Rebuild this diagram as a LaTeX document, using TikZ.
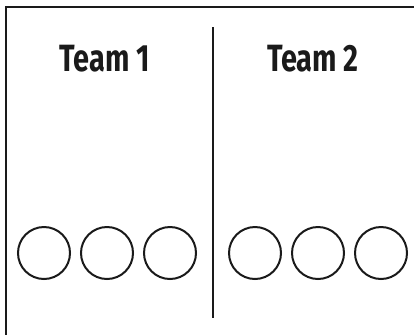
\documentclass[tikz,border=0pt]{standalone}
\usepackage{fontspec}
\setmainfont{Fira Sans}
\usetikzlibrary{positioning}
\definecolor{ink}{HTML}{1A1A1A}
\tikzset{
  frame/.style={draw=ink,line width=2.2pt},
  divider/.style={draw=ink,line width=2.2pt},
  token/.style={circle,draw=ink,line width=2pt,minimum size=52pt,inner sep=0pt},
  teamlabel/.style={font=\fontsize{38}{42}\selectfont\bfseries,text=ink,inner sep=0pt}
}
\newcommand{\teamname}[1]{\scalebox{0.76}[1]{#1}}
\begin{document}
\begin{tikzpicture}[x=1pt,y=-1pt,node distance=9pt]
    \useasboundingbox (0,0) rectangle (414,335);
    \draw[frame] (414,7) -- (6,7) -- (6,335);

    \coordinate (divtop) at (213,27);
    \coordinate (divbot) at (213,318);
    \draw[divider] (divtop) -- (divbot);

    \node[teamlabel] (team1) at (105,59) {\teamname{Team 1}};
    \node[teamlabel] (team2) at (313,59) {\teamname{Team 2}};

    \node[token] (a1) at (44,253) {};
    \node[token,right=of a1] (a2) {};
    \node[token,right=of a2] (a3) {};
    \node[token] (b1) at (255,253) {};
    \node[token,right=of b1] (b2) {};
    \node[token,right=of b2] (b3) {};
\end{tikzpicture}
\end{document}
